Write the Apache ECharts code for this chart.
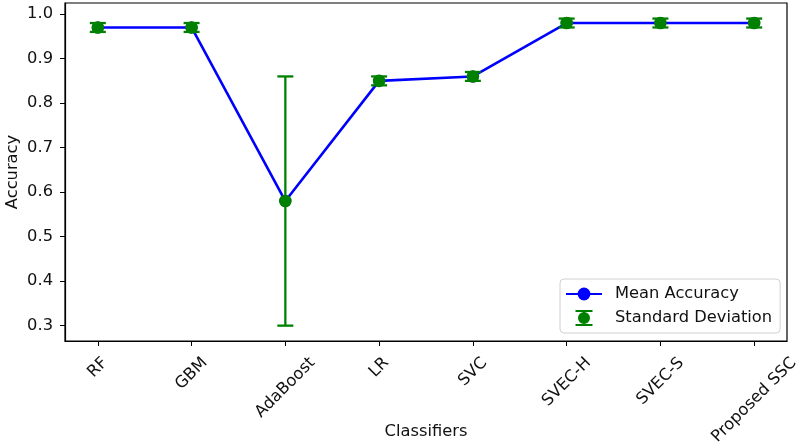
<!DOCTYPE html>
<html><head><meta charset="utf-8">
<script src="https://cdn.jsdelivr.net/npm/echarts@6/dist/echarts.min.js"></script>
<style>html,body{margin:0;padding:0;background:#fff}#c{width:800px;height:444px}</style>
</head><body><div id="c"></div>
<script>
const categories = ['RF','GBM','AdaBoost','LR','SVC','SVEC-H','SVEC-S','Proposed SSC'];
const meanAccuracy = [0.97,0.97,0.58,0.85,0.86,0.98,0.98,0.98];
const stdDev = [0.01,0.01,0.28,0.01,0.01,0.01,0.01,0.01];
const yTicks = [0.3,0.4,0.5,0.6,0.7,0.8,0.9,1.0];

const idx = categories.map((_, i) => i);
const evenIdx = idx.filter(i => i % 2 === 0);
const oddIdx = idx.filter(i => i % 2 === 1);
const lineData = idx.map(i => [i, meanAccuracy[i]]);
const errData = idx.map(i => [i, meanAccuracy[i] - stdDev[i], meanAccuracy[i] + stdDev[i]]);

const font = 'DejaVu Sans';
const fs = 16.3;
const txt = '#111';
const errIcon = 'path://M0,0 L0.01,0 L0.01,0.01 Z M36,16 L35.99,16 L35.99,15.99 Z ' +
  'M9.5,0 h17 v2 h-17 Z M9.5,14 h17 v2 h-17 Z M17,0 h2 v16 h-2 Z ' +
  'M12,8 a6,6 0 1,1 12,0 a6,6 0 1,1 -12,0 Z';

// rotated x labels centred under their tick (matplotlib ha=center style)
const ctx = document.createElement('canvas').getContext('2d');
ctx.font = fs + 'px "' + font + '"';
const LH = 18, TOPGAP = 13;
const rich = {};
categories.forEach((c, i) => {
  const w = ctx.measureText(c).width;
  const d = TOPGAP + (w + LH) * Math.SQRT1_2 / 2;
  const p = Math.SQRT2 * d;
  rich['r' + i] = {fontSize: fs, fontFamily: font, color: txt, lineHeight: LH, padding: [p, p, 0, 0]};
});
const labelFmt = v => { const i = Math.round(v); return '{r' + i + '|' + categories[i] + '}'; };
const labelBase = {show: true, rotate: 45, margin: 0, align: 'center', verticalAlign: 'middle',
  showMinLabel: true, showMaxLabel: true, hideOverlap: false,
  fontSize: fs, color: txt, fontFamily: font, rich: rich, formatter: labelFmt};

const chart = echarts.init(document.getElementById('c'), null, {renderer: 'canvas'});
chart.setOption({
  animation: false,
  textStyle: {fontFamily: font},
  grid: {left: 65, right: 13, top: 3, bottom: 103, containLabel: false, outerBoundsMode: 'none',
    show: true, borderColor: '#000', borderWidth: 1.2, backgroundColor: 'transparent'},
  xAxis: [{
    type: 'value', min: -0.35, max: 7.35, position: 'bottom',
    name: 'Classifiers', nameLocation: 'middle', nameGap: 83, nameMoveOverlap: false,
    nameTextStyle: {fontSize: fs, color: txt, fontFamily: font},
    axisLine: {show: true, onZero: false, lineStyle: {color: '#000', width: 1.2}},
    axisTick: {show: true, length: 5, lineStyle: {color: '#000'}, customValues: idx},
    axisLabel: Object.assign({customValues: evenIdx}, labelBase),
    splitLine: {show: false}
  }, {
    type: 'value', min: -0.35, max: 7.35, position: 'bottom', offset: 0,
    axisLine: {show: false, onZero: false},
    axisTick: {show: false},
    axisLabel: Object.assign({customValues: oddIdx}, labelBase),
    splitLine: {show: false}
  }],
  yAxis: {
    type: 'value', min: 0.2655, max: 1.025,
    name: 'Accuracy', nameLocation: 'middle', nameGap: 44, nameMoveOverlap: false,
    nameTextStyle: {fontSize: fs, color: txt, fontFamily: font},
    axisLine: {show: true, onZero: false, lineStyle: {color: '#000', width: 1.2}},
    axisTick: {show: true, length: 5, lineStyle: {color: '#000'}, customValues: yTicks},
    axisLabel: {show: true, margin: 12, fontSize: fs, color: txt, fontFamily: font,
      customValues: yTicks, formatter: v => v.toFixed(1)},
    splitLine: {show: false}
  },
  legend: {
    left: 560, top: 279, orient: 'vertical',
    padding: [7, 8, 7, 5], itemGap: 8, itemWidth: 36, itemHeight: 16,
    backgroundColor: 'rgba(255,255,255,0.85)', borderColor: '#d0d0d0', borderWidth: 1, borderRadius: 4,
    textStyle: {fontSize: fs, color: txt, fontFamily: font, padding: [0, 0, 0, 8]},
    data: [
      {name: 'Mean Accuracy'},
      {name: 'Standard Deviation', icon: errIcon, itemStyle: {color: '#008000'}}
    ]
  },
  series: [
    {
      name: 'Mean Accuracy', type: 'line', data: lineData, xAxisIndex: 0,
      symbol: 'circle', symbolSize: 12,
      lineStyle: {color: '#0000ff', width: 2.6}, itemStyle: {color: '#0000ff'}, z: 2
    },
    {
      name: 'Standard Deviation', type: 'custom', data: errData, z: 3, xAxisIndex: 0,
      itemStyle: {color: '#008000'},
      encode: {x: 0, y: [1, 2]},
      renderItem: function (params, api) {
        const x = api.value(0);
        const lo = api.coord([x, api.value(1)]);
        const hi = api.coord([x, api.value(2)]);
        const mid = api.coord([x, meanAccuracy[params.dataIndex]]);
        const hw = 8;
        const st = {stroke: '#008000', lineWidth: 2.3, fill: null};
        return {type: 'group', children: [
          {type: 'line', shape: {x1: lo[0], y1: lo[1], x2: hi[0], y2: hi[1]}, style: st},
          {type: 'line', shape: {x1: lo[0]-hw, y1: lo[1], x2: lo[0]+hw, y2: lo[1]}, style: st},
          {type: 'line', shape: {x1: hi[0]-hw, y1: hi[1], x2: hi[0]+hw, y2: hi[1]}, style: st},
          {type: 'circle', shape: {cx: mid[0], cy: mid[1], r: 6.3}, style: {fill: '#008000'}}
        ]};
      }
    }
  ]
});
</script></body></html>
